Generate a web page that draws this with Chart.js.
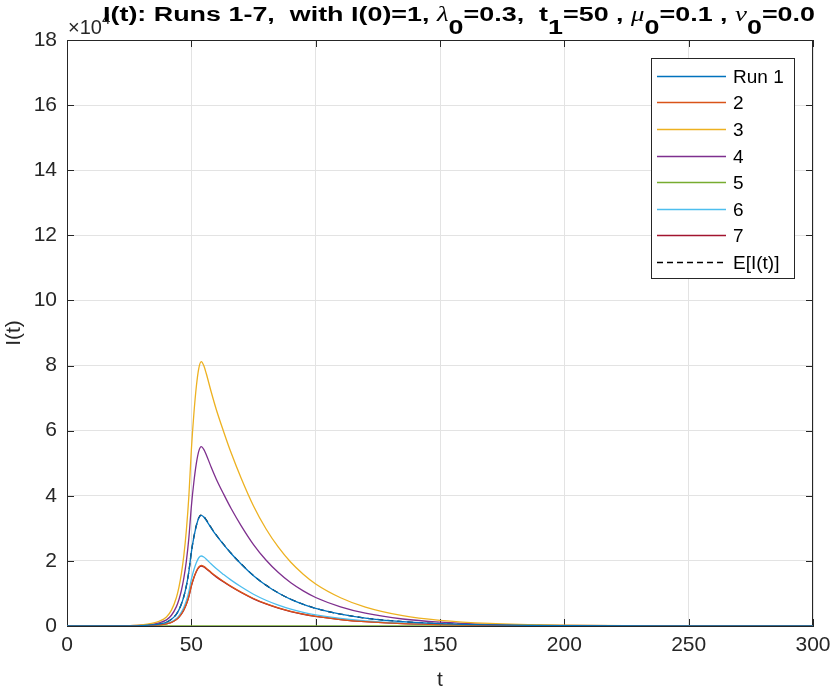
<!DOCTYPE html>
<html>
<head>
<meta charset="utf-8">
<script src="https://cdn.jsdelivr.net/npm/chart.js@4"></script>
<style>
  body { margin: 0; background: #fff; }
</style>
</head>
<body>
<canvas id="myChart" width="830" height="693"></canvas>
<script>
  // time points (t) and I(t) for each run
  const tValues = [0, 10, 20, 25, 30, 34, 37, 40, 42, 44, 45, 46, 47, 48, 49, 50, 51, 52, 53, 54, 55, 56, 58, 60, 63, 66, 70, 75, 80, 85, 90, 95, 100, 110, 120, 135, 150, 170, 200, 240, 300];

  const run1 = [1, 3, 20, 54, 146, 323, 595, 1156, 2040, 3672, 4964, 6732, 9112, 12308, 16660, 22610, 27200, 30770, 33150, 34000, 33490, 32470, 30090, 27880, 24990, 22270, 19040, 15436, 12512, 10132, 8194, 6664, 5406, 3638, 2431, 1326, 728, 326, 99, 20, 2];
  const run2 = [1, 2, 11, 30, 80, 177, 326, 632, 1116, 2009, 2716, 3683, 4985, 6733, 9114, 12369, 14880, 16833, 18135, 18600, 18321, 17763, 16461, 15252, 13671, 12183, 10416, 8444, 6845, 5543, 4483, 3646, 2957, 1990, 1330, 725, 398, 179, 54, 11, 1];
  const run3 = [1, 8, 49, 130, 349, 771, 1421, 2761, 4872, 8770, 11855, 16078, 21762, 29394, 39788, 53998, 64960, 73486, 79170, 81200, 79982, 77546, 71862, 66584, 59682, 53186, 45472, 36865, 29882, 24198, 19569, 15915, 12911, 8688, 5806, 3167, 1738, 780, 235, 49, 5];
  const run4 = [1, 6, 33, 88, 237, 523, 964, 1873, 3306, 5951, 8045, 10910, 14767, 19946, 26999, 36642, 44080, 49866, 53723, 55100, 54274, 52621, 48764, 45182, 40499, 36091, 30856, 25015, 20277, 16420, 13279, 10800, 8761, 5896, 3940, 2149, 1179, 529, 160, 33, 3];
  const run5 = [1, 0, 0, 0, 0, 0, 0, 0, 0, 0, 0, 0, 0, 0, 0, 0, 0, 0, 0, 0, 0, 0, 0, 0, 0, 0, 0, 0, 0, 0, 0, 0, 0, 0, 0, 0, 0, 0, 0, 0, 0];
  const run6 = [1, 2, 13, 34, 92, 204, 376, 731, 1290, 2322, 3139, 4257, 5762, 7783, 10535, 14298, 17200, 19458, 20963, 21500, 21178, 20533, 19028, 17630, 15803, 14083, 12040, 9761, 7912, 6407, 5182, 4214, 3419, 2301, 1537, 839, 460, 206, 62, 13, 1];
  const run7 = [1, 2, 11, 29, 79, 175, 322, 626, 1104, 1987, 2686, 3643, 4931, 6661, 9016, 12236, 14720, 16652, 17940, 18400, 18124, 17572, 16284, 15088, 13524, 12052, 10304, 8354, 6771, 5483, 4434, 3606, 2926, 1969, 1316, 718, 394, 177, 53, 11, 1];
  const meanI = [1, 3, 20, 55, 147, 324, 597, 1159, 2046, 3683, 4979, 6752, 9139, 12344, 16709, 22677, 27280, 30861, 33248, 34100, 33589, 32566, 30179, 27962, 25064, 22336, 19096, 15481, 12549, 10162, 8218, 6684, 5422, 3649, 2438, 1330, 730, 327, 99, 20, 2];

  const runLabels = ['Run 1', '2', '3', '4', '5', '6', '7'];
  const meanLabel = 'E[I(t)]';
  const runs = [run1, run2, run3, run4, run5, run6, run7];
  const runColors = ['#0072BD', '#D95319', '#EDB120', '#7E2F8E', '#77AC30', '#4DBEEE', '#A2142F'];

  const axisColor = '#262626';
  const font = '"Liberation Sans", Arial, sans-serif';

  const toPoints = arr => tValues.map((t, i) => ({ x: t, y: arr[i] }));

  const datasets = runs.map((r, k) => ({
    label: runLabels[k],
    data: toPoints(r),
    borderColor: runColors[k],
    borderWidth: 1.3,
    pointRadius: 0,
    cubicInterpolationMode: 'monotone',
    fill: false,
  }));
  datasets.push({
    label: meanLabel,
    data: toPoints(meanI),
    borderColor: '#000',
    borderWidth: 1.3,
    borderDash: [6, 4],
    pointRadius: 0,
    cubicInterpolationMode: 'monotone',
    fill: false,
  });

  // box, inward ticks (drawn under the lines, like matlab)
  const framePlugin = {
    id: 'frame',
    beforeDatasetsDraw(chart) {
      const { ctx, chartArea: a, scales } = chart;
      ctx.save();
      ctx.strokeStyle = axisColor;
      ctx.lineWidth = 1;
      ctx.strokeRect(a.left + 0.5, a.top + 0.5, a.right - a.left - 1, a.bottom - a.top);
      const len = 7;
      ctx.beginPath();
      scales.x.ticks.forEach(tk => {
        const px = Math.round(scales.x.getPixelForValue(tk.value)) + 0.5;
        ctx.moveTo(px, a.bottom); ctx.lineTo(px, a.bottom - len);
        ctx.moveTo(px, a.top); ctx.lineTo(px, a.top + len);
      });
      scales.y.ticks.forEach(tk => {
        const py = Math.round(scales.y.getPixelForValue(tk.value)) + 0.5;
        ctx.moveTo(a.left, py); ctx.lineTo(a.left + len, py);
        ctx.moveTo(a.right, py); ctx.lineTo(a.right - len, py);
      });
      ctx.stroke();
      ctx.restore();
    },
    afterDraw(chart) {
      const { ctx, chartArea: a } = chart;
      ctx.save();
      // exponent label
      ctx.fillStyle = axisColor;
      ctx.textBaseline = 'alphabetic';
      ctx.font = '20px ' + font;
      ctx.fillText('\u00d710', a.left + 1, 34);
      const w = ctx.measureText('\u00d710').width;
      ctx.font = '15px ' + font;
      ctx.fillText('4', a.left + 1 + w, 24);

      // title with subscripts
      const parts = [
        ['I(t): Runs 1-7,  with I(0)=1, ', 'b'], ['\u03bb', 'g'], ['0', 's'],
        ['=0.3,  t', 'b'], ['1', 's'], ['=50 , ', 'b'], ['\u03bc', 'g'], ['0', 's'],
        ['=0.1 , ', 'b'], ['\u03bd', 'g'], ['0', 's'], ['=0.0', 'b']
      ];
      const fonts = { b: 'bold 20px ' + font, s: 'bold 20px ' + font, g: 'italic 20px "Liberation Serif", serif' };
      let total = 0;
      parts.forEach(p => { ctx.font = fonts[p[1]]; total += ctx.measureText(p[0]).width; });
      ctx.translate(103, 21);
      ctx.scale(712 / total, 1);
      ctx.fillStyle = '#000';
      let x = 0;
      parts.forEach(p => {
        ctx.font = fonts[p[1]];
        ctx.fillText(p[0], x, p[1] === 's' ? 13 : 0);
        x += ctx.measureText(p[0]).width;
      });
      ctx.restore();

      // legend box
      ctx.save();
      const L = 651, T = 58, R = 794, B = 278;
      ctx.fillStyle = '#fff';
      ctx.fillRect(L, T, R - L, B - T);
      ctx.strokeStyle = axisColor;
      ctx.lineWidth = 1;
      ctx.strokeRect(L + 0.5, T + 0.5, R - L, B - T);
      ctx.font = '19px ' + font;
      ctx.textBaseline = 'middle';
      chart.data.datasets.forEach((ds, i) => {
        const y = Math.round(75.7 + i * 26.6) + 0.5;
        ctx.strokeStyle = ds.borderColor;
        ctx.lineWidth = 1.3;
        ctx.setLineDash(ds.borderDash || []);
        ctx.beginPath();
        ctx.moveTo(657, y); ctx.lineTo(726, y);
        ctx.stroke();
        ctx.setLineDash([]);
        ctx.fillStyle = '#000';
        ctx.fillText(ds.label, 733, y + 1);
      });
      ctx.restore();
    }
  };

  const config = {
    type: 'line',
    data: { datasets },
    options: {
      responsive: false,
      animation: false,
      layout: { padding: { top: 40, right: 17, left: 0, bottom: 0 } },
      plugins: {
        legend: { display: false },
        title: { display: false },
        tooltip: { enabled: false },
      },
      scales: {
        x: {
          type: 'linear',
          min: 0,
          max: 300,
          afterFit(s) { s.height = 67; s.paddingLeft = 0; s.paddingRight = 0; },
          ticks: { stepSize: 50, color: axisColor, font: { family: font, size: 21 }, padding: 7, maxRotation: 0 },
          grid: { color: '#e3e3e3', drawTicks: false },
          border: { color: axisColor },
          title: { display: true, text: 't', color: axisColor, font: { family: font, size: 21 }, padding: { top: 0, bottom: 0 } },
        },
        y: {
          min: 0,
          max: 180000,
          afterFit(s) { s.width = 67; },
          ticks: { stepSize: 20000, color: axisColor, font: { family: font, size: 21 }, padding: 10,
            callback: v => v / 10000 },
          grid: { color: '#e3e3e3', drawTicks: false },
          border: { color: axisColor },
          title: { display: true, text: 'I(t)', color: axisColor, font: { family: font, size: 21 }, padding: { top: 2, bottom: 0 } },
        }
      }
    },
    plugins: [framePlugin]
  };

  var myChart = new Chart(document.getElementById('myChart'), config);
</script>
</body>
</html>
